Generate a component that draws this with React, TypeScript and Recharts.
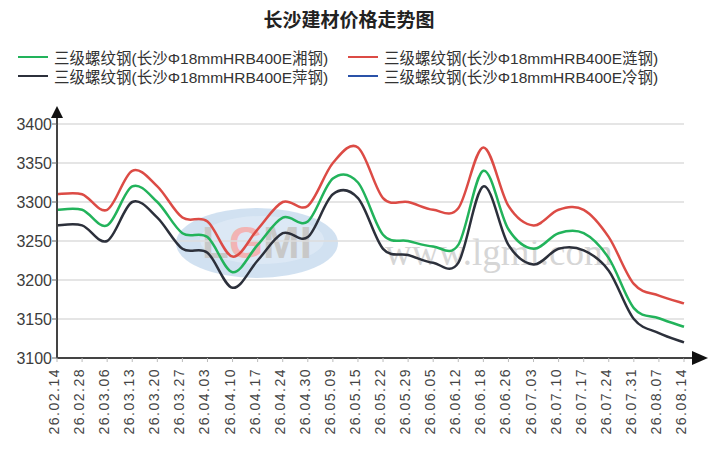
import { LineChart, Line, XAxis, YAxis, CartesianGrid } from "recharts";

// 长沙建材价格走势图 - weekly prices, 元/吨
const dates = [
  "26.02.14", "26.02.28", "26.03.06", "26.03.13", "26.03.20", "26.03.27",
  "26.04.03", "26.04.10", "26.04.17", "26.04.24", "26.04.30", "26.05.09",
  "26.05.15", "26.05.22", "26.05.29", "26.06.05", "26.06.12", "26.06.18",
  "26.06.26", "26.07.03", "26.07.10", "26.07.17", "26.07.24", "26.07.31",
  "26.08.07", "26.08.14",
];

const xiangGang = [
  3290, 3290, 3270, 3320, 3300, 3260, 3255, 3210, 3245, 3280, 3275, 3330, 3325,
  3258, 3250, 3243, 3245, 3340, 3265, 3240, 3260, 3260, 3228, 3164, 3151, 3140,
];
const lianGang = [
  3310, 3310, 3290, 3340, 3320, 3280, 3275, 3230, 3265, 3300, 3295, 3350, 3370,
  3305, 3300, 3290, 3292, 3370, 3295, 3270, 3290, 3290, 3255, 3195, 3180, 3170,
];
const pingGang = [
  3270, 3270, 3250, 3300, 3280, 3240, 3235, 3190, 3225, 3260, 3255, 3310, 3305,
  3240, 3232, 3222, 3222, 3320, 3245, 3220, 3240, 3238, 3212, 3150, 3132, 3120,
];

const yTicks = [3100, 3150, 3200, 3250, 3300, 3350, 3400];

const series = [
  { key: "xiang", name: "三级螺纹钢(长沙Φ18mmHRB400E湘钢)", color: "#22b35b" },
  { key: "lian", name: "三级螺纹钢(长沙Φ18mmHRB400E涟钢)", color: "#dc4b45" },
  { key: "ping", name: "三级螺纹钢(长沙Φ18mmHRB400E萍钢)", color: "#2c303b" },
  { key: "leng", name: "三级螺纹钢(长沙Φ18mmHRB400E冷钢)", color: "#2a52a8" },
];

const data = dates.map((date, i) => ({
  date,
  xiang: xiangGang[i],
  lian: lianGang[i],
  ping: pingGang[i],
}));

const W = 712;
const H = 452;
const PLOT_LEFT = 57;
const PLOT_RIGHT = 684;
const PLOT_TOP = 124;
const PLOT_BOTTOM = 358;

const font = '"Liberation Sans", Arial, "Noto Sans CJK SC", sans-serif';

// cardinal (Catmull-Rom) spline, like the original chart's "Spline" series
function splineCurve(context: any) {
  let pts: number[][] = [];
  return {
    areaStart() {},
    areaEnd() {},
    lineStart() {
      pts = [];
    },
    point(x: number, y: number) {
      pts.push([+x, +y]);
    },
    lineEnd() {
      if (!pts.length) return;
      context.moveTo(pts[0][0], pts[0][1]);
      for (let i = 0; i < pts.length - 1; i++) {
        const p0 = pts[i - 1] || pts[i];
        const p1 = pts[i];
        const p2 = pts[i + 1];
        const p3 = pts[i + 2] || p2;
        const k = 1 / 6;
        context.bezierCurveTo(
          p1[0] + (p2[0] - p0[0]) * k,
          p1[1] + (p2[1] - p0[1]) * k,
          p2[0] - (p3[0] - p1[0]) * k,
          p2[1] - (p3[1] - p1[1]) * k,
          p2[0],
          p2[1]
        );
      }
    },
  };
}

function DateTick(props: any) {
  const { x, y, payload } = props;
  const tx = x + 2;
  return (
    <text
      x={tx}
      y={y}
      transform={`rotate(-90, ${tx}, ${y})`}
      textAnchor="end"
      fontSize={14}
      letterSpacing={1.5}
      fill="#444"
      fontFamily={font}
    >
      {payload.value}
    </text>
  );
}

export default function App() {
  return (
    <div
      style={{
        position: "absolute",
        left: 0,
        top: 0,
        width: W,
        height: H,
        background: "#fff",
        fontFamily: font,
        overflow: "hidden",
      }}
    >
      {/* watermark */}
      <svg width={W} height={H} style={{ position: "absolute", left: 0, top: 0 }}>
        <ellipse cx={257} cy={243} rx={81} ry={35} fill="#c9dcef" opacity={0.85} />
        <ellipse cx={262} cy={240} rx={62} ry={24} fill="#dde9f5" opacity={0.9} />
        <text
          x={257}
          y={258}
          textAnchor="middle"
          fontSize={44}
          fontWeight="bold"
          fill="#c8c8c8"
          fontFamily={font}
        >
          L<tspan fill="#f2b4b4">G</tspan>MI
        </text>
        <text
          x={385}
          y={265}
          fontSize={37}
          fill="#d6d6d6"
          fontFamily='"Liberation Serif", "DejaVu Serif", serif'
        >
          www.lgmi.com
        </text>
      </svg>

      <div
        style={{
          position: "absolute",
          left: 0,
          top: 9,
          width: 698,
          textAlign: "center",
          fontSize: 19,
          lineHeight: "19px",
          fontWeight: "bold",
          color: "#222",
          fontFamily: '"Noto Sans CJK SC", sans-serif',
        }}
      >
        长沙建材价格走势图
      </div>

      {series.map((s, i) => {
        const col = i % 2;
        const row = Math.floor(i / 2);
        const left = col === 0 ? 18 : 348;
        const cy = row === 0 ? 57 : 76;
        return (
          <div
            key={s.key}
            style={{
              position: "absolute",
              left,
              top: cy - 10,
              height: 20,
              display: "flex",
              alignItems: "center",
              fontSize: 15.5,
              color: "#333",
              whiteSpace: "nowrap",
            }}
          >
            <span
              style={{
                display: "inline-block",
                width: 30,
                height: 2.5,
                background: s.color,
                marginRight: 6,
              }}
            />
            {s.name}
          </div>
        );
      })}

      <div style={{ position: "absolute", left: 0, top: 0 }}>
        <LineChart
          width={W}
          height={H}
          data={data}
          margin={{
            top: PLOT_TOP,
            right: W - PLOT_RIGHT,
            bottom: 0,
            left: 0,
          }}
        >
          <CartesianGrid vertical={false} stroke="#dcdcdc" strokeWidth={1.5} />
          <XAxis
            dataKey="date"
            interval={0}
            height={H - PLOT_BOTTOM}
            padding={{ left: 0, right: 0 }}
            tick={<DateTick />}
            tickSize={4}
            tickMargin={6}
            tickLine={{ stroke: "#bbb" }}
            axisLine={{ stroke: "#444", strokeWidth: 2 }}
          />
          <YAxis
            width={PLOT_LEFT}
            domain={[3100, 3400]}
            ticks={yTicks}
            interval={0}
            tickSize={5}
            tickMargin={0}
            tickLine={{ stroke: "#666" }}
            axisLine={{ stroke: "#444", strokeWidth: 2 }}
            tick={{ fontSize: 16, fill: "#3c3c3c", fontFamily: font }}
          />
          {series.slice(0, 3).map((s) => (
            <Line
              key={s.key}
              dataKey={s.key}
              name={s.name}
              type={splineCurve as any}
              stroke={s.color}
              strokeWidth={2.5}
              dot={false}
              isAnimationActive={false}
            />
          ))}
        </LineChart>
      </div>

      {/* axis arrows */}
      <svg
        width={W}
        height={H}
        style={{ position: "absolute", left: 0, top: 0, pointerEvents: "none" }}
      >
        <line x1={PLOT_LEFT} y1={PLOT_TOP} x2={PLOT_LEFT} y2={116} stroke="#444" strokeWidth={2} />
        <polygon points={`${PLOT_LEFT - 6},118 ${PLOT_LEFT + 6},118 ${PLOT_LEFT},106`} fill="#111" />
        <line x1={PLOT_RIGHT} y1={PLOT_BOTTOM} x2={694} y2={PLOT_BOTTOM} stroke="#444" strokeWidth={2} />
        <polygon points={`692,${PLOT_BOTTOM - 7} 692,${PLOT_BOTTOM + 7} 708,${PLOT_BOTTOM}`} fill="#111" />
      </svg>
    </div>
  );
}
